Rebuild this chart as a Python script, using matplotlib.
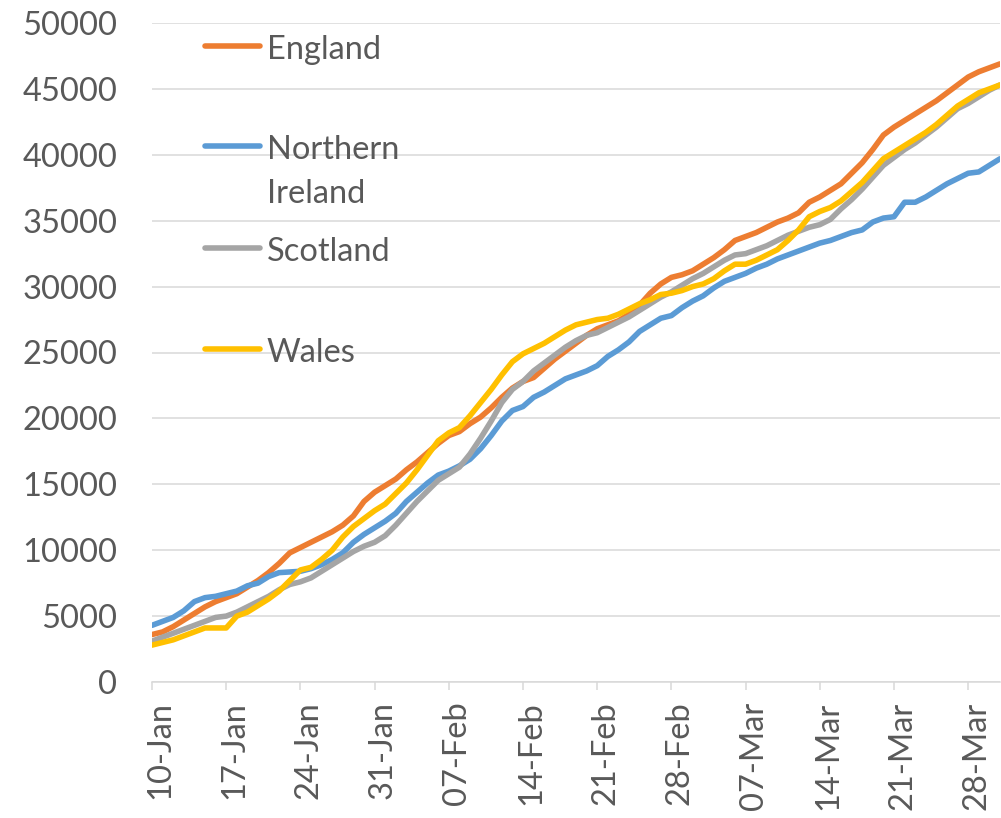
import matplotlib
matplotlib.use('Agg')
import matplotlib.pyplot as plt
import matplotlib.dates as mdates
from matplotlib.lines import Line2D
from matplotlib.transforms import ScaledTranslation
import pandas as pd

dates = pd.date_range('2021-01-10', '2021-03-31', freq='D')

england = [3600, 3800, 4200, 4700, 5200, 5700, 6100, 6400, 6700, 7200,
           7700, 8300, 9000, 9800, 10200, 10600, 11000, 11400, 11900, 12600,
           13700, 14400, 14900, 15400, 16100, 16700, 17400, 18100, 18700, 19000,
           19600, 20100, 20800, 21600, 22300, 22800, 23100, 23800, 24500, 25100,
           25700, 26300, 26800, 27100, 27400, 27900, 28600, 29500, 30200, 30700,
           30900, 31200, 31700, 32200, 32800, 33500, 33800, 34100, 34500, 34900,
           35200, 35600, 36400, 36800, 37300, 37800, 38600, 39400, 40400, 41500,
           42100, 42600, 43100, 43600, 44100, 44700, 45300, 45900, 46300, 46600,
           46900]
northern_ireland = [4300, 4600, 4900, 5400, 6100, 6400, 6500, 6700, 6900, 7300,
                    7500, 8000, 8300, 8350, 8400, 8600, 8900, 9300, 9800, 10600,
                    11200, 11700, 12200, 12800, 13700, 14400, 15100, 15700, 16000, 16400,
                    16900, 17700, 18700, 19800, 20600, 20900, 21600, 22000, 22500, 23000,
                    23300, 23600, 24000, 24700, 25200, 25800, 26600, 27100, 27600, 27800,
                    28400, 28900, 29300, 29900, 30400, 30700, 31000, 31400, 31700, 32100,
                    32400, 32700, 33000, 33300, 33500, 33800, 34100, 34300, 34900, 35200,
                    35300, 36400, 36400, 36800, 37300, 37800, 38200, 38600, 38700, 39200,
                    39700]
scotland = [3100, 3400, 3700, 4000, 4300, 4600, 4900, 5000, 5300, 5700,
            6100, 6500, 7000, 7400, 7600, 7900, 8400, 8900, 9400, 9900,
            10300, 10600, 11100, 11900, 12800, 13700, 14500, 15300, 15800, 16300,
            17300, 18500, 19800, 21200, 22200, 22800, 23600, 24200, 24800, 25400,
            25900, 26300, 26500, 26900, 27300, 27700, 28200, 28700, 29200, 29600,
            30100, 30600, 31000, 31500, 32000, 32400, 32500, 32800, 33100, 33500,
            33900, 34200, 34500, 34700, 35100, 35900, 36600, 37400, 38300, 39200,
            39800, 40400, 40900, 41500, 42100, 42800, 43500, 43900, 44400, 44900,
            45300]
wales = [2800, 3000, 3200, 3500, 3800, 4100, 4100, 4100, 5000, 5300,
         5800, 6300, 6900, 7700, 8500, 8700, 9300, 10000, 11000, 11800,
         12400, 13000, 13500, 14300, 15100, 16100, 17200, 18300, 18900, 19300,
         20200, 21200, 22200, 23300, 24300, 24900, 25300, 25700, 26200, 26700,
         27100, 27300, 27500, 27600, 27900, 28300, 28700, 29000, 29400, 29500,
         29700, 30000, 30200, 30600, 31200, 31700, 31700, 32000, 32400, 32800,
         33500, 34300, 35300, 35700, 36000, 36500, 37200, 37900, 38800, 39700,
         40200, 40700, 41200, 41700, 42300, 43000, 43700, 44200, 44700, 45000,
         45300]

series = [('England', england, '#ED7D31'),
          ('Northern\nIreland', northern_ireland, '#5B9BD5'),
          ('Scotland', scotland, '#A5A5A5'),
          ('Wales', wales, '#FFC000')]

plt.rcParams['font.family'] = ['Lato', 'DejaVu Sans']
txt_col = '#595959'
grid_col = '#D9D9D9'

fig = plt.figure(figsize=(10.01, 8.18), dpi=100)
ax = fig.add_axes([152/1001, 1 - 682/818, 848/1001, 659/818])

for name, vals, col in series:
    ax.plot(dates, vals, color=col, lw=4.0, solid_capstyle='round', solid_joinstyle='round')

ax.set_xlim(dates[0], dates[-1])
ax.set_ylim(0, 50000)
ax.set_yticks(range(0, 50001, 5000))
ax.set_xticks(dates[::7])
ax.xaxis.set_major_formatter(mdates.DateFormatter('%d-%b'))

ax.grid(axis='y', color=grid_col, lw=1.1)
ax.set_axisbelow(True)
for s in ['left', 'right', 'top']:
    ax.spines[s].set_visible(False)
ax.spines['bottom'].set_color(grid_col)
ax.spines['bottom'].set_linewidth(1.1)
ax.tick_params(axis='y', length=0, pad=25, labelsize=23.5, labelcolor=txt_col)
ax.tick_params(axis='x', length=6, width=1.1, color=grid_col, pad=8,
               labelsize=23.5, labelcolor=txt_col, labelrotation=90)
for lab in ax.get_xticklabels():
    lab.set_transform(lab.get_transform() + ScaledTranslation(6/72, 0, fig.dpi_scale_trans))

# legend, stacked in the upper left
hy = [0.965, 0.813, 0.658, 0.505]
for (name, vals, col), y in zip(series, hy):
    ax.add_line(Line2D([0.0625, 0.1274], [y, y], transform=ax.transAxes, color=col,
                       lw=4.0, solid_capstyle='round'))
    if '\n' in name:
        ax.text(0.1356, y + 0.017, name, transform=ax.transAxes, fontsize=23.5,
                color=txt_col, va='top', linespacing=1.6)
    else:
        ax.text(0.1356, y - 0.006, name, transform=ax.transAxes, fontsize=23.5,
                color=txt_col, va='center')

fig.savefig('out.png', dpi=100)
